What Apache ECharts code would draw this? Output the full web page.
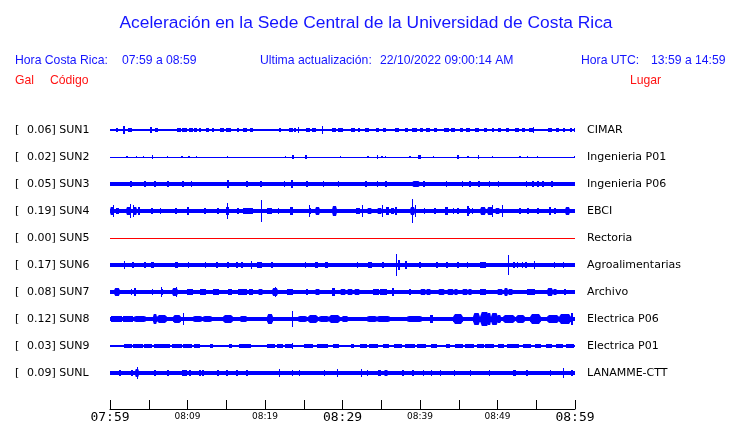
<!DOCTYPE html>
<html>
<head>
<meta charset="utf-8">
<script src="https://cdn.jsdelivr.net/npm/echarts@6/dist/echarts.min.js"></script>
<style>html,body{margin:0;padding:0;background:#fff}#c{width:740px;height:423px}</style>
</head>
<body>
<div id="c"></div>
<script>
// ---- data (time in minutes after 07:59, amplitudes in gal) ----
const codes = ['SUN1','SUN2','SUN3','SUN4','SUN5','SUN6','SUN7','SUN8','SUN9','SUNL'];
const places = ['CIMAR','Ingenieria P01','Ingenieria P06','EBCI','Rectoria','Agroalimentarias','Archivo','Electrica P06','Electrica P01','LANAMME-CTT'];
const peakGal = ['0.06','0.02','0.05','0.19','0.00','0.17','0.08','0.12','0.03','0.09'];
const tickLabels = ['07:59','08:09','08:19','08:29','08:39','08:49','08:59'];
const baseAmp = [0.008, 0.006, 0.027, 0.024, 0.0, 0.027, 0.028, 0.036, 0.012, 0.028];
// events: [minute, half amplitude (gal), duration (min)]
const sun1 = [[0.9,0.025,0.2],[1.8,0.06,0.15],[2.6,0.025,0.5],[3.4,0.02,0.3],[4.0,0.02,0.3],[5.3,0.045,0.15],[5.9,0.025,0.3],[6.1,0.03,0.1],[7.2,0.02,0.2],[8.9,0.03,0.5],[9.6,0.03,0.6],[10.4,0.03,0.5],[11.0,0.025,0.4],[11.6,0.025,0.2],[12.6,0.025,0.3],[13.3,0.03,0.2],[14.5,0.03,0.5],[15.3,0.03,0.6],[16.5,0.025,0.3],[17.4,0.03,0.5],[18.2,0.025,0.4],[20.2,0.02,0.2],[21.9,0.025,0.2],[23.3,0.035,0.5],[23.9,0.03,0.3],[24.3,0.045,0.15],[25.5,0.03,0.5],[26.3,0.03,0.5],[27.4,0.065,0.15],[28.9,0.03,0.5],[29.7,0.03,0.6],[31.4,0.03,0.5],[32.1,0.025,0.3],[33.2,0.03,0.5],[34.5,0.025,0.4],[35.4,0.03,0.4],[37.0,0.025,0.5],[38.2,0.03,0.4],[39.3,0.035,0.6],[40.2,0.03,0.5],[41.0,0.03,0.5],[42.0,0.035,0.5],[43.4,0.035,0.6],[44.3,0.03,0.5],[45.3,0.03,0.4],[46.2,0.03,0.5],[47.3,0.025,0.5],[48.4,0.03,0.4],[49.4,0.025,0.3],[50.3,0.03,0.4],[51.3,0.025,0.4],[52.5,0.03,0.5],[53.3,0.035,0.4],[54.3,0.03,0.5],[54.6,0.05,0.15],[56.8,0.03,0.5],[57.7,0.025,0.4],[58.6,0.03,0.3],[59.5,0.025,0.3],[59.9,0.03,0.15]];
const sun2 = [[2.2,0.02,0.15],[3.4,0.02,0.15],[4.3,0.02,0.15],[5.5,0.03,0.15],[7.4,0.02,0.15],[9.3,0.02,0.15],[10.2,0.02,0.15],[11.2,0.015,0.15],[15.2,0.02,0.15],[22.6,0.02,0.15],[23.6,0.035,0.3],[25.3,0.03,0.25],[29.7,0.02,0.15],[33.3,0.02,0.15],[34.5,0.03,0.15],[35.1,0.02,0.15],[35.5,0.02,0.15],[38.7,0.02,0.15],[39.9,0.03,0.4],[41.7,0.02,0.15],[44.9,0.03,0.15],[46.2,0.02,0.15],[47.5,0.025,0.15],[49.4,0.02,0.15],[52.9,0.02,0.15],[53.9,0.02,0.15],[55.2,0.02,0.15],[59.9,0.02,0.15]];
const sun3 = [[2.7,0.045,0.3],[4.5,0.04,0.2],[5.8,0.05,0.35],[7.5,0.04,0.2],[9.4,0.045,0.3],[10.5,0.04,0.2],[15.2,0.06,0.3],[17.7,0.04,0.2],[19.5,0.045,0.3],[22.5,0.04,0.2],[23.5,0.065,0.35],[25.4,0.045,0.2],[27.5,0.04,0.15],[29.5,0.04,0.15],[33.0,0.04,0.2],[34.5,0.04,0.2],[35.6,0.045,0.2],[39.5,0.05,1.0],[40.5,0.045,0.2],[43.4,0.04,0.2],[45.5,0.045,0.2],[46.5,0.05,0.25],[47.6,0.045,0.2],[49.0,0.04,0.15],[50.1,0.045,0.2],[53.7,0.04,0.15],[54.6,0.045,0.2],[55.2,0.045,0.2],[55.9,0.04,0.2],[57.0,0.04,0.2]];
const sun4 = [[0.3,0.06,0.5],[0.5,0.1,0.12],[1.0,0.05,0.4],[2.4,0.06,0.6],[2.6,0.105,0.12],[3.0,0.09,0.1],[3.2,0.07,0.5],[3.7,0.06,0.3],[5.4,0.045,0.2],[6.5,0.04,0.2],[8.5,0.05,0.25],[10.1,0.06,0.3],[12.3,0.055,0.3],[13.9,0.05,0.2],[15.2,0.06,0.4],[15.2,0.12,0.12],[16.5,0.045,0.2],[17.8,0.045,1.2],[19.6,0.17,0.12],[20.6,0.045,0.6],[21.7,0.04,0.15],[23.4,0.06,0.4],[25.8,0.05,0.3],[25.8,0.09,0.12],[26.8,0.06,0.6],[29.0,0.075,0.6],[32.0,0.045,0.6],[32.6,0.09,0.12],[33.5,0.05,0.6],[34.8,0.05,0.6],[35.2,0.09,0.12],[35.8,0.06,0.5],[36.4,0.05,0.4],[36.9,0.06,0.3],[39.0,0.06,0.7],[39.0,0.19,0.12],[39.4,0.09,0.12],[40.6,0.045,0.2],[41.9,0.045,0.2],[43.4,0.06,0.3],[44.3,0.045,0.2],[44.9,0.05,0.2],[46.2,0.05,0.4],[46.2,0.085,0.15],[46.8,0.045,0.2],[48.1,0.06,0.8],[49.0,0.065,0.8],[49.4,0.09,0.12],[50.0,0.055,0.6],[50.6,0.1,0.12],[52.9,0.045,0.2],[53.9,0.05,0.2],[55.2,0.045,0.2],[56.8,0.06,0.25],[57.4,0.045,0.2],[59.0,0.06,0.7]];
const sun5 = [];
const sun6 = [[1.9,0.065,0.12],[3.0,0.045,0.2],[4.5,0.045,0.2],[5.5,0.05,0.3],[8.6,0.055,0.4],[10.1,0.045,0.2],[12.3,0.045,0.2],[13.8,0.045,0.2],[15.2,0.05,0.3],[16.4,0.045,0.2],[17.0,0.045,0.2],[18.3,0.065,0.12],[19.3,0.045,0.6],[20.9,0.055,0.3],[25.2,0.05,0.12],[26.6,0.045,0.4],[27.9,0.045,0.4],[31.9,0.045,0.15],[33.5,0.045,0.5],[35.2,0.045,0.3],[37.0,0.17,0.12],[37.3,0.08,0.2],[38.2,0.065,0.15],[40.0,0.045,0.15],[42.2,0.045,0.15],[43.5,0.055,0.3],[44.9,0.045,0.15],[46.1,0.045,0.15],[48.1,0.04,0.8],[51.4,0.16,0.12],[52.1,0.045,0.2],[52.6,0.045,0.2],[53.2,0.045,0.2],[53.7,0.045,0.2],[54.8,0.065,0.15],[57.4,0.045,0.15],[58.5,0.045,0.15]];
const sun7 = [[0.9,0.06,0.7],[2.8,0.05,0.2],[3.2,0.06,0.2],[5.5,0.045,0.2],[6.7,0.05,0.3],[6.7,0.085,0.12],[8.4,0.06,0.7],[8.6,0.08,0.12],[10.3,0.045,0.8],[12.0,0.045,0.8],[13.7,0.045,0.8],[15.5,0.045,0.6],[17.1,0.045,1.2],[18.2,0.045,0.6],[19.4,0.05,0.6],[21.3,0.06,0.7],[21.4,0.08,0.12],[23.2,0.045,0.8],[25.4,0.045,0.2],[26.8,0.05,0.6],[28.8,0.065,0.4],[30.1,0.055,0.8],[31.0,0.05,0.8],[31.9,0.055,0.8],[34.3,0.045,0.8],[35.3,0.045,0.8],[36.5,0.065,0.3],[38.7,0.045,0.2],[40.4,0.05,0.7],[41.1,0.05,0.6],[42.8,0.055,0.9],[43.9,0.055,0.9],[44.6,0.05,0.5],[45.8,0.055,0.7],[46.5,0.05,0.5],[48.1,0.045,0.8],[50.3,0.055,0.8],[51.1,0.065,0.5],[51.7,0.055,0.6],[54.3,0.045,1.0],[56.8,0.065,0.8],[57.4,0.055,0.5],[58.7,0.045,0.3]];
const sun8 = [[0.8,0.048,1.4],[2.3,0.045,1.3],[3.9,0.05,1.6],[5.8,0.08,0.5],[6.7,0.065,1.2],[8.6,0.07,1.0],[9.5,0.1,0.12],[11.3,0.055,1.2],[12.6,0.055,1.2],[15.2,0.065,1.3],[17.2,0.05,0.9],[20.6,0.08,0.8],[23.5,0.12,0.12],[24.8,0.055,1.2],[26.2,0.06,1.4],[27.6,0.055,1.2],[29.0,0.06,1.4],[30.3,0.055,0.8],[33.8,0.055,1.2],[35.3,0.055,1.6],[39.3,0.055,2.0],[41.5,0.07,0.3],[44.9,0.08,1.2],[47.3,0.09,1.0],[48.3,0.11,1.2],[48.9,0.1,0.6],[49.6,0.09,0.8],[50.2,0.07,0.5],[51.5,0.065,1.5],[53.0,0.06,1.2],[54.9,0.08,1.5],[57.2,0.07,1.5],[58.7,0.075,1.5],[59.6,0.09,0.3]];
const sun9 = [[2.3,0.03,1.0],[3.6,0.03,1.2],[4.9,0.03,1.0],[6.1,0.03,0.8],[7.1,0.03,1.2],[8.6,0.035,1.3],[10.0,0.03,1.2],[11.2,0.03,0.8],[13.1,0.025,0.4],[15.5,0.03,0.4],[17.4,0.03,1.5],[20.8,0.03,1.0],[21.9,0.03,0.8],[23.1,0.03,1.0],[23.5,0.04,0.15],[25.6,0.03,1.2],[27.4,0.03,1.5],[29.2,0.03,0.8],[31.3,0.025,0.3],[32.7,0.03,0.8],[34.0,0.03,1.2],[35.6,0.03,0.8],[37.2,0.03,1.0],[38.7,0.03,1.2],[40.2,0.035,1.2],[41.8,0.03,0.8],[43.6,0.03,0.6],[45.0,0.03,1.0],[46.4,0.03,1.2],[47.8,0.03,0.8],[49.0,0.03,1.2],[50.5,0.03,0.8],[52.0,0.03,1.5],[53.8,0.03,1.0],[55.2,0.03,0.8],[56.6,0.03,0.8],[58.0,0.03,1.0],[59.4,0.03,1.0]];
const sunl = [[1.3,0.045,0.2],[2.8,0.05,0.3],[3.5,0.06,0.6],[3.5,0.09,0.15],[5.8,0.045,0.2],[7.5,0.045,0.2],[9.6,0.045,0.6],[10.3,0.04,0.2],[11.6,0.045,0.2],[12.0,0.055,0.2],[13.9,0.045,0.2],[15.1,0.045,0.2],[16.4,0.045,0.2],[17.7,0.045,0.2],[21.9,0.065,0.15],[23.5,0.045,0.15],[24.5,0.045,0.15],[27.7,0.055,0.2],[29.4,0.065,0.15],[32.5,0.065,0.15],[33.2,0.045,0.15],[34.8,0.055,0.4],[35.6,0.05,0.5],[37.8,0.045,0.15],[39.1,0.045,0.15],[40.4,0.045,0.15],[41.5,0.045,0.15],[42.6,0.045,0.15],[44.5,0.045,0.15],[46.5,0.055,0.2],[49.0,0.045,0.15],[52.2,0.05,0.5],[53.8,0.045,0.15],[56.8,0.045,0.15],[58.5,0.08,0.12],[59.6,0.05,0.3]];
const events = [sun1, sun2, sun3, sun4, sun5, sun6, sun7, sun8, sun9, sunl];
const traceColors = ['#0000ff','#0000ff','#0000ff','#0000ff','#ff0000','#0000ff','#0000ff','#0000ff','#0000ff','#0000ff'];

// ---- layout ----
const SP = 0.43;      // gal between trace baselines
const TOTAL_MIN = 60;
const chart = echarts.init(document.getElementById('c'), null, {renderer: 'canvas'});

function makeRender(k) {
  const c = k * SP;
  const base = baseAmp[k];
  const color = traceColors[k];
  return function (params, api) {
    const t = api.value(0), a = api.value(1), d = api.value(2);
    const p1 = api.coord([Math.max(0, t - d / 2), c - a]);
    const p2 = api.coord([Math.min(TOTAL_MIN, t + d / 2), c + a]);
    const pc = api.coord([t, c]);
    let x1 = Math.round(Math.min(p1[0], p2[0])), x2 = Math.round(Math.max(p1[0], p2[0]));
    let y1 = Math.round(Math.min(p1[1], p2[1])), y2 = Math.round(Math.max(p1[1], p2[1]));
    if (x2 - x1 < 1) x2 = x1 + 1;
    if (y2 - y1 < 1) {
      const m = Math.round(pc[1] - 0.5) + 0.5;
      return {type: 'line', shape: {x1: x1, y1: m, x2: x2, y2: m},
              style: {stroke: color, lineWidth: 1, fill: null}};
    }
    const w = x2 - x1;
    if (w < 4 || d >= TOTAL_MIN || a < 0.05) {
      return {type: 'rect', shape: {x: x1, y: y1, width: w, height: y2 - y1}, style: {fill: color}};
    }
    // burst envelope with slightly tapered ends
    const pb = api.coord([t, c + base]);
    const hb = Math.abs(pb[1] - pc[1]);
    const taper = Math.min(w * 0.2, 2);
    const mid = pc[1];
    return {type: 'polygon', shape: {points: [
      [x1, mid - hb], [x1 + taper, y1], [x2 - taper, y1], [x2, mid - hb],
      [x2, mid + hb], [x2 - taper, y2], [x1 + taper, y2], [x1, mid + hb]
    ]}, style: {fill: color}};
  };
}

const series = events.map((evs, k) => {
  const data = [[TOTAL_MIN / 2, baseAmp[k], TOTAL_MIN]].concat(evs);
  return {type: 'custom', renderItem: makeRender(k), data: data, clip: false, silent: true,
          itemStyle: {color: traceColors[k]}, encode: {x: 0}};
});

const blue = '#1414ff', red = '#ff1414';
const hdr = '12.2px "Liberation Sans"';
const graphics = [
  {type:'text', x:366, y:23, style:{text:'Aceleración en la Sede Central de la Universidad de Costa Rica', fill:blue, font:'17.4px "Liberation Sans"', textAlign:'center', textVerticalAlign:'middle'}},
  {type:'text', x:15, y:61, style:{text:'Hora Costa Rica:', fill:blue, font:hdr, textVerticalAlign:'middle'}},
  {type:'text', x:122, y:61, style:{text:'07:59 a 08:59', fill:blue, font:hdr, textVerticalAlign:'middle'}},
  {type:'text', x:260, y:61, style:{text:'Ultima actualización:', fill:blue, font:hdr, textVerticalAlign:'middle'}},
  {type:'text', x:380, y:61, style:{text:'22/10/2022 09:00:14 AM', fill:blue, font:hdr, textVerticalAlign:'middle'}},
  {type:'text', x:581, y:61, style:{text:'Hora UTC:', fill:blue, font:hdr, textVerticalAlign:'middle'}},
  {type:'text', x:651, y:61, style:{text:'13:59 a 14:59', fill:blue, font:hdr, textVerticalAlign:'middle'}},
  {type:'text', x:15, y:81, style:{text:'Gal', fill:red, font:hdr, textVerticalAlign:'middle'}},
  {type:'text', x:50, y:81, style:{text:'Código', fill:red, font:hdr, textVerticalAlign:'middle'}},
  {type:'text', x:630, y:81, style:{text:'Lugar', fill:red, font:hdr, textVerticalAlign:'middle'}}
];
codes.forEach((code, k) => {
  const y = 130.5 + k * 27;
  graphics.push({type:'text', x:15, y:y, style:{text:'[', fill:'#000', font:'11px "DejaVu Sans"', textVerticalAlign:'middle'}});
  graphics.push({type:'text', x:27, y:y, style:{text:peakGal[k] + '] ' + code, fill:'#000', font:'11px "DejaVu Sans"', textVerticalAlign:'middle'}});
  graphics.push({type:'text', x:587, y:y, style:{text:places[k], fill:'#000', font:'11px "DejaVu Sans"', textVerticalAlign:'middle'}});
});

chart.setOption({
  animation: false,
  backgroundColor: '#fff',
  grid: {left: 110, width: 465, top: 116.5, height: 292.5, containLabel: false, outerBoundsMode: 'none'},
  xAxis: {
    type: 'value', min: 0, max: TOTAL_MIN, interval: 5,
    splitLine: {show: false},
    axisLine: {show: true, onZero: false, lineStyle: {color: '#000', width: 1}},
    axisTick: {show: true, inside: true, length: 9, lineStyle: {color: '#000', width: 1}},
    axisLabel: {
      show: true, margin: 1, hideOverlap: false, showMinLabel: true, showMaxLabel: true,
      formatter: function (v) {
        if (v % 10 !== 0) return '';
        const idx = v / 10;
        const big = (v % 30 === 0);
        return big ? '{b|' + tickLabels[idx] + '}' : '{s|' + tickLabels[idx] + '}';
      },
      rich: {
        b: {fontFamily: 'DejaVu Sans Mono', fontSize: 13, lineHeight: 15, color: '#000'},
        s: {fontFamily: 'DejaVu Sans', fontSize: 9, lineHeight: 13, color: '#000'}
      }
    }
  },
  yAxis: {type: 'value', inverse: true, min: -0.5 * SP, max: 10.3333 * SP, show: false},
  series: series,
  graphic: graphics
});
</script>
</body>
</html>
